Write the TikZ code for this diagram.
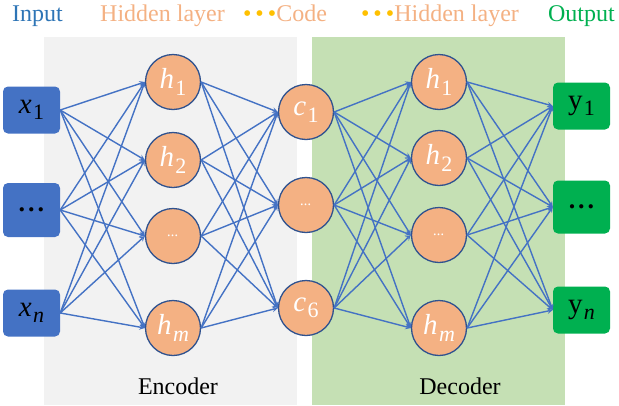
\documentclass[tikz,border=0pt]{standalone}
\usepackage{fontspec}
\setmainfont{Liberation Serif}
\usepackage{tikz}
\usetikzlibrary{positioning}

\definecolor{netblue}{HTML}{4472C4}
\definecolor{rimblue}{HTML}{2F528F}
\definecolor{peach}{HTML}{F4B183}
\definecolor{outgreen}{HTML}{00B050}
\definecolor{bggray}{HTML}{F2F2F2}
\definecolor{bggreen}{HTML}{C5E0B4}
\definecolor{inlabel}{HTML}{2E75B6}
\definecolor{dotyellow}{HTML}{FFC000}

% letter with a lowered index
\newcommand{\idx}[2]{#1\kern0.05em\raisebox{-0.22em}{\fontsize{22}{24}\selectfont #2}}

\begin{document}
\begin{tikzpicture}[x=1pt, y=-1pt,
    font=\fontsize{24}{28}\selectfont,
    inbox/.style={rectangle, rounded corners=5pt, fill=netblue, minimum width=57pt, minimum height=47pt, inner sep=0pt, font=\fontsize{29}{32}\selectfont},
    outbox/.style={inbox, fill=outgreen},
    neuron/.style={circle, draw=rimblue, line width=1.3pt, fill=peach, minimum size=55pt, inner sep=0pt, text=white, font=\fontsize{29}{32}\selectfont},
    link/.style={-stealth, draw=netblue, line width=1.4pt},
    title/.style={anchor=base, inner sep=0pt}]
    \useasboundingbox (0,0) rectangle (619,405);

    % encoder / decoder panels
    \fill[bggray] (44,37) rectangle (297,405);
    \fill[bggreen] (312,37) rectangle (565,405);

    % titles
    \node[title, text=inlabel] (tin) at (37.5,21) {Input};
    \node[title, text=peach] (thid) at (162.5,21) {Hidden layer};
    \node[title, text=peach] (tcode) at (285,21) {{\color{dotyellow}\textbullet\,\textbullet\,\textbullet}Code};
    \node[title, text=peach] (thid2) at (440,21) {{\color{dotyellow}\textbullet\,\textbullet\,\textbullet}Hidden layer};
    \node[title, text=outgreen] (tout) at (581.5,21) {Output};
    \node[title] (tenc) at (178,394) {Encoder};
    \node[title] (tdec) at (460,394) {Decoder};

    % input layer
    \node[inbox] (x1) at (31.5,110) {\idx{\textit{x}}{1}};
    \node[inbox, minimum height=54pt, font=\fontsize{26}{28}\selectfont] (x2) at (31.5,210) {\textbf{.\hspace{3pt}.\hspace{3pt}.}};
    \node[inbox] (x3) at (31.5,313) {\idx{\textit{x}}{\textit{n}}};

    % encoder hidden layer
    \node[neuron] (e1) at (173,82) {\idx{\textit{h}}{1}};
    \node[neuron] (e2) at (173,160) {\idx{\textit{h}}{2}};
    \node[neuron, font=\fontsize{15}{17}\selectfont] (e3) at (173,236) {\textit{...}};
    \node[neuron] (e4) at (173,328) {\idx{\textit{h}}{\textit{m}}};

    % code layer
    \node[neuron] (c1) at (306,112) {\idx{\textit{c}}{1}};
    \node[neuron, font=\fontsize{15}{17}\selectfont] (c2) at (306,205) {\textit{...}};
    \node[neuron] (c3) at (306,308) {\idx{\textit{c}}{6}};

    % decoder hidden layer
    \node[neuron] (d1) at (439,82) {\idx{\textit{h}}{1}};
    \node[neuron] (d2) at (439,158) {\idx{\textit{h}}{2}};
    \node[neuron, font=\fontsize{15}{17}\selectfont] (d3) at (439,235) {\textit{...}};
    \node[neuron] (d4) at (439,328) {\idx{\textit{h}}{\textit{m}}};

    % output layer
    \node[outbox] (y1) at (581.5,106) {\idx{y}{1}};
    \node[outbox, minimum height=53pt, font=\fontsize{26}{28}\selectfont] (y2) at (581.5,207) {\textbf{.\hspace{3pt}.\hspace{3pt}.}};
    \node[outbox] (y3) at (581.5,310) {\idx{y}{\textit{n}}};

    % connections
    \foreach \i in {1,2,3}
        \foreach \j in {1,...,4}
            \draw[link] (x\i.east) -- (e\j.west);
    \foreach \i in {1,...,4}
        \foreach \j in {1,2,3}
            \draw[link] (e\i.east) -- (c\j.west);
    \foreach \i in {1,2,3}
        \foreach \j in {1,...,4}
            \draw[link] (c\i.east) -- (d\j.west);
    \foreach \i in {1,...,4}
        \foreach \j in {1,2,3}
            \draw[link] (d\i.east) -- (y\j.west);
\end{tikzpicture}
\end{document}
